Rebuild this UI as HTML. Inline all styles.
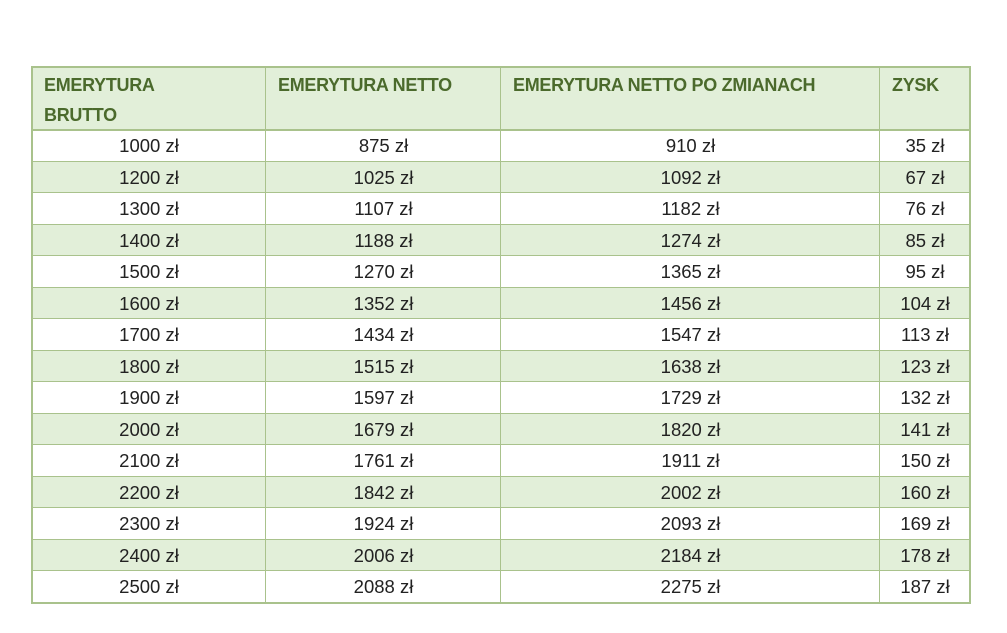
<!DOCTYPE html>
<html><head><meta charset="utf-8"><style>
body{margin:0;background:#fff;width:1007px;height:633px;overflow:hidden;font-family:"Liberation Sans",sans-serif;}
.c{position:absolute;box-sizing:border-box;}
.h{color:#4b6a2c;font-weight:bold;font-size:18px;line-height:30px;padding:3px 0 0 12px;letter-spacing:-0.3px}
.t{font-size:18.5px;color:#222;text-align:center;line-height:31px}
</style></head><body>
<div id="w"></div>
<script>
const cols=[32,266,501,880,970];
const rows=[["1000","875","910","35"],["1200","1025","1092","67"],["1300","1107","1182","76"],["1400","1188","1274","85"],["1500","1270","1365","95"],["1600","1352","1456","104"],["1700","1434","1547","113"],["1800","1515","1638","123"],["1900","1597","1729","132"],["2000","1679","1820","141"],["2100","1761","1911","150"],["2200","1842","2002","160"],["2300","1924","2093","169"],["2400","2006","2184","178"],["2500","2088","2275","187"]];
let h='';
const heads=["EMERYTURA<br>BRUTTO","EMERYTURA NETTO","EMERYTURA NETTO PO ZMIANACH","ZYSK"];
h+=`<div class="c" style="left:32px;top:67px;width:939px;height:63px;background:#e2efd9"></div>`;
for(let i=0;i<4;i++)h+=`<div class="c h" style="left:${cols[i]}px;top:67px;width:${cols[i+1]-cols[i]}px;height:63px">${heads[i]}</div>`;
const top0=130,rh=31.53;
rows.forEach((r,k)=>{const y=top0+k*rh;
 if(k%2==1)h+=`<div class="c" style="left:32px;top:${y}px;width:939px;height:${rh}px;background:#e2efd9"></div>`;
 for(let i=0;i<4;i++)h+=`<div class="c t" style="left:${cols[i]}px;top:${y}px;width:${cols[i+1]-cols[i]}px;height:${rh}px">${r[i]} zł</div>`;
});
// horizontal lines
h+=`<div class="c" style="left:32px;top:66px;width:939px;height:2px;background:#a9c28c"></div>`;
h+=`<div class="c" style="left:32px;top:129px;width:939px;height:2px;background:#a9c28c"></div>`;
for(let k=1;k<=15;k++)h+=`<div class="c" style="left:32px;top:${Math.round(top0+k*rh)-1}px;width:939px;height:${k==15?2:1}px;background:#a9c28c"></div>`;
cols.forEach((x,i)=>h+=`<div class="c" style="left:${x-1}px;top:66px;width:${(i==0||i==4)?2:1}px;height:538px;background:#a9c28c"></div>`);
document.getElementById('w').innerHTML=h;
</script>
</body></html>
